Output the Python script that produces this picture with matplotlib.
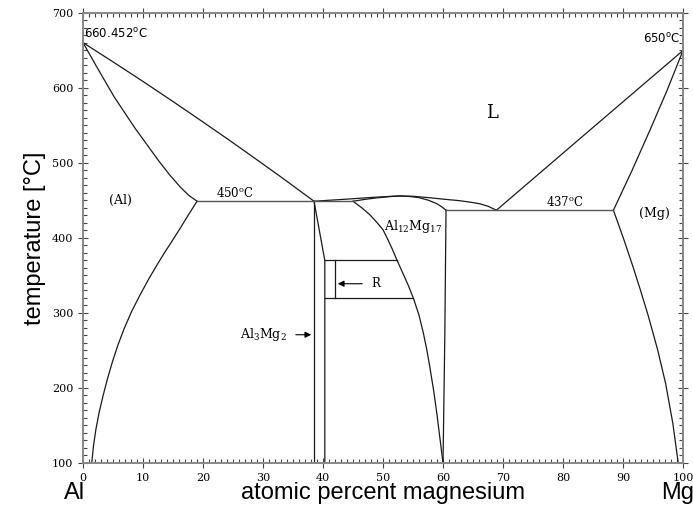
import matplotlib
matplotlib.use("Agg")
import matplotlib.pyplot as plt
import numpy as np

plt.rcParams['font.family'] = ['DejaVu Serif']
plt.rcParams['mathtext.default'] = 'regular'

# (Al) side
liq_al_x = [0, 5, 10, 15, 19, 24, 28, 33, 38.5]
liq_al_t = [660.452, 634.8, 608.7, 581.9, 560.1, 532.5, 509.9, 481.3, 449]
sol_al_x = [0, 2.3, 5.2, 8.7, 12.6, 14.4, 16.2, 17.6, 19]
sol_al_t = [660.452, 628, 588, 546, 503, 484.5, 468, 457, 449]
solv_al_x = [19, 17.5, 16.2, 14.85, 13.55, 12.25, 11.0, 9.5, 8.1, 6.9, 5.85, 4.9, 4.1, 3.35, 2.7, 2.15, 1.75, 1.45]
solv_al_t = [449, 430, 413, 396, 380, 363, 346, 324, 302, 280, 258, 235, 213, 190, 168, 145, 123, 100]

# Al3Mg2
beta_l_x = [38.5, 38.5]
beta_l_t = [100, 449]
beta_r_x = [38.5, 40.3, 40.3]
beta_r_t = [449, 370, 100]

# Al12Mg17
gam_l_x = [45, 46.5, 47.8, 48.95, 50.0, 50.8, 51.55, 52.3, 53.25, 54.2, 55.05, 56.0, 56.7, 57.3, 57.8, 58.45, 59.0, 59.5, 60.0]
gam_l_t = [449, 440, 431, 421, 411, 398, 385, 371, 354, 337, 320, 297, 274, 251, 228, 196, 164, 132, 100]
gam_r_x = [60.5, 60.3, 60]
gam_r_t = [437, 270, 100]
liq_mid_x = [38.5, 41, 44, 48, 51.2, 52.8, 55, 58, 60, 62.8, 65, 66.2, 67.6, 68.9]
liq_mid_t = [449, 450.3, 451.8, 454, 455.5, 456, 455.6, 453.5, 451.8, 449.7, 447.2, 445.5, 442, 437]
sol_gam_x = [45, 47, 49, 51.2, 52.8, 54.5, 56, 57.5, 58.9, 59.8, 60.5]
sol_gam_t = [449, 451.5, 453.5, 455.2, 456, 455.3, 453.8, 450.5, 446, 441.5, 437]

# (Mg) side
liq_mg_x = [68.9, 84.5, 100]
liq_mg_t = [437, 544, 650]
sol_mg_x = [88.4, 91.5, 94.5, 97.3, 100]
sol_mg_t = [437, 490, 544, 596, 650]
solv_mg_x = [88.4, 90.05, 91.65, 93.0, 94.25, 95.8, 97.1, 98.3, 99.2]
solv_mg_t = [437, 400, 362, 328, 295, 250, 206, 153, 100]

# invariant lines
eut1_x = [19, 38.5]
eut1_t = [449, 449]
eut2_x = [38.5, 45]
eut2_t = [449, 449]
eut3_x = [60.5, 88.4]
eut3_t = [437, 437]

# R phase
r_top_x = [40.3, 52.3]
r_top_t = [370, 370]
r_bot_x = [40.3, 55.05]
r_bot_t = [320, 320]
r_in_x = [42, 42]
r_in_t = [320, 370]

fig = plt.figure(figsize=(6.93, 5.15), dpi=100)
ax = fig.add_axes([0.1198, 0.101, 0.8658, 0.8738])

lc = '#1a1a1a'
lw = 0.9
curves = [
    (liq_al_x, liq_al_t), (sol_al_x, sol_al_t), (solv_al_x, solv_al_t),
    (beta_l_x, beta_l_t), (beta_r_x, beta_r_t),
    (gam_l_x, gam_l_t), (gam_r_x, gam_r_t),
    (liq_mid_x, liq_mid_t), (sol_gam_x, sol_gam_t),
    (liq_mg_x, liq_mg_t), (sol_mg_x, sol_mg_t), (solv_mg_x, solv_mg_t),
    (r_top_x, r_top_t), (r_bot_x, r_bot_t), (r_in_x, r_in_t),
]
for x, t in curves:
    ax.plot(x, t, color=lc, lw=lw)
for x, t in [(eut1_x, eut1_t), (eut2_x, eut2_t), (eut3_x, eut3_t)]:
    ax.plot(x, t, color='#555555', lw=1.0)

ax.set_xlim(0, 100)
ax.set_ylim(100, 700)
ax.set_xticks(np.arange(0, 101, 10))
ax.set_xticks(np.arange(0, 101, 1), minor=True)
ax.set_yticks(np.arange(100, 701, 100))
ax.set_yticks(np.arange(100, 701, 10), minor=True)
ax.tick_params(which='both', top=True, right=True, labelsize=8, color='#444444',
               width=0.8)
ax.tick_params(which='major', direction='inout', length=7)
ax.tick_params(which='minor', direction='in', length=3)
for s in ax.spines.values():
    s.set_color('#888888')
    s.set_linewidth(1.4)

# labels inside
ax.text(0.2, 663, '660.452$^{o}$C', fontsize=8.5, family='DejaVu Sans', ha='left', va='bottom')
ax.text(99.6, 656, '650$^{o}$C', fontsize=8.5, family='DejaVu Sans', ha='right', va='bottom')
ax.text(68.2, 567, 'L', fontsize=13, ha='center', va='center')
ax.text(6.2, 450, '(Al)', fontsize=9, ha='center', va='center')
ax.text(95.3, 433, '(Mg)', fontsize=9, ha='center', va='center')
ax.text(25.3, 451, '450$^{o}$C', fontsize=8.5, ha='center', va='bottom')
ax.text(80.3, 439, '437$^{o}$C', fontsize=8.5, ha='center', va='bottom')
ax.text(55, 415, 'Al$_{12}$Mg$_{17}$', fontsize=9, ha='center', va='center')
ax.text(30, 271, 'Al$_{3}$Mg$_{2}$', fontsize=9, ha='center', va='center')
ax.annotate('', xy=(38.5, 271), xytext=(35, 271),
            arrowprops=dict(arrowstyle='-|>', color='black', lw=0.8, mutation_scale=9))
ax.text(48.8, 339, 'R', fontsize=8.5, ha='center', va='center')
ax.annotate('', xy=(42, 339), xytext=(47, 339),
            arrowprops=dict(arrowstyle='-|>', color='black', lw=0.8, mutation_scale=9))

ax.set_ylabel('temperature [°C]', family='Liberation Sans', fontsize=17, labelpad=4)
fig.text(0.5527, 0.043, 'atomic percent magnesium', family='Liberation Sans', fontsize=17,
         ha='center', va='center')
fig.text(0.107, 0.043, 'Al', family='Liberation Sans', fontsize=17, ha='center', va='center')
fig.text(0.978, 0.043, 'Mg', family='Liberation Sans', fontsize=17, ha='center', va='center')

plt.savefig('out.png', dpi=100)
